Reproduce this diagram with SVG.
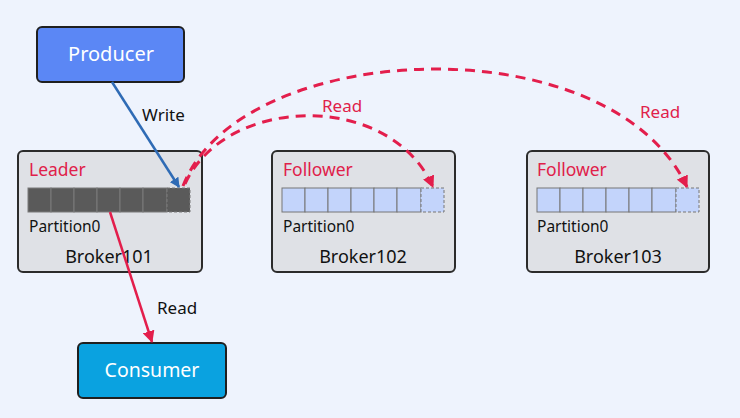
<svg xmlns="http://www.w3.org/2000/svg" width="740" height="418" viewBox="0 0 740 418">
<style>
.t{font-family:"Noto Sans","Open Sans","Liberation Sans",sans-serif}
.broker{fill:#dfe1e6;stroke:#2b2b2b;stroke-width:2}
.red{fill:#e0204a}
.lbl{font-size:17.5px}
.part{font-size:15.5px;fill:#111}
.bname{font-size:18px;fill:#111;text-anchor:middle}
.dcell{fill:#5a5a5a;stroke:#7a7a7a;stroke-width:1}
.lcell{fill:#c3d4fb;stroke:#767676;stroke-width:1}
.dash{stroke-dasharray:3,2}
.arc{fill:none;stroke:#e31e4c;stroke-width:3;stroke-dasharray:10,7}
</style>
<defs>
<marker id="ab" markerWidth="10" markerHeight="10" refX="9" refY="5" orient="auto" markerUnits="userSpaceOnUse"><path d="M0,0 L10,5 L0,10 z" fill="#2f6bb5"/></marker>
<marker id="ar" markerWidth="12" markerHeight="12" refX="11" refY="6" orient="auto" markerUnits="userSpaceOnUse"><path d="M0,0 L12,6 L0,12 z" fill="#e31e4c"/></marker>
</defs>
<rect width="740" height="418" fill="#eef3fd"/>
<g id="producer">
<rect x="37" y="27" width="147" height="55" rx="5" fill="#5b87f5" stroke="#1f1f1f" stroke-width="2"/>
<text class="t" x="111" y="61" font-size="20" fill="#fff" text-anchor="middle">Producer</text>
</g>
<g id="broker101">
<rect class="broker" x="18" y="151" width="184" height="121" rx="5"/>
<text class="t lbl red" x="29" y="176">Leader</text>
<rect class="dcell" x="28" y="188" width="23" height="24"/>
<rect class="dcell" x="51" y="188" width="23" height="24"/>
<rect class="dcell" x="74" y="188" width="23" height="24"/>
<rect class="dcell" x="97" y="188" width="23" height="24"/>
<rect class="dcell" x="120" y="188" width="23" height="24"/>
<rect class="dcell" x="143" y="188" width="24" height="24"/>
<rect class="dcell dash" x="167" y="188" width="23" height="24"/>
<text class="t part" x="29" y="232">Partition0</text>
<text class="t bname" x="109" y="263">Broker101</text>
</g>
<g id="broker102">
<rect class="broker" x="272" y="151" width="183" height="121" rx="5"/>
<text class="t lbl red" x="283" y="176">Follower</text>
<rect class="lcell" x="282" y="188" width="23" height="24"/>
<rect class="lcell" x="305" y="188" width="23" height="24"/>
<rect class="lcell" x="328" y="188" width="23" height="24"/>
<rect class="lcell" x="351" y="188" width="23" height="24"/>
<rect class="lcell" x="374" y="188" width="23" height="24"/>
<rect class="lcell" x="397" y="188" width="24" height="24"/>
<rect class="lcell dash" x="421" y="188" width="23" height="24"/>
<text class="t part" x="283" y="232">Partition0</text>
<text class="t bname" x="363" y="263">Broker102</text>
</g>
<g id="broker103">
<rect class="broker" x="527" y="151" width="182" height="121" rx="5"/>
<text class="t lbl red" x="537" y="176">Follower</text>
<rect class="lcell" x="537" y="188" width="23" height="24"/>
<rect class="lcell" x="560" y="188" width="23" height="24"/>
<rect class="lcell" x="583" y="188" width="23" height="24"/>
<rect class="lcell" x="606" y="188" width="23" height="24"/>
<rect class="lcell" x="629" y="188" width="23" height="24"/>
<rect class="lcell" x="652" y="188" width="24" height="24"/>
<rect class="lcell dash" x="676" y="188" width="23" height="24"/>
<text class="t part" x="537" y="232">Partition0</text>
<text class="t bname" x="618" y="263">Broker103</text>
</g>
<g id="consumer">
<rect x="78" y="343" width="148" height="55" rx="5" fill="#0aa2e0" stroke="#1f1f1f" stroke-width="2"/>
<text class="t" x="152" y="377" font-size="19.5" fill="#fff" text-anchor="middle">Consumer</text>
</g>
<g id="connectors">
<line x1="112" y1="82" x2="179" y2="187" stroke="#2f6bb5" stroke-width="2.5" marker-end="url(#ab)"/>
<text class="t" x="142" y="121" font-size="17" fill="#111">Write</text>
<line x1="110" y1="212" x2="152" y2="342" stroke="#e31e4c" stroke-width="2.5" marker-end="url(#ar)"/>
<text class="t" x="157" y="314" font-size="17" fill="#111">Read</text>
<path class="arc" d="M183,186 C240,38 610,22 687,187" marker-end="url(#ar)"/>
<path class="arc" d="M185,184 C225,95 390,90 433,187" marker-end="url(#ar)"/>
<text class="t red" x="322" y="112" font-size="17">Read</text>
<text class="t red" x="640" y="118" font-size="17">Read</text>
</g>
</svg>
